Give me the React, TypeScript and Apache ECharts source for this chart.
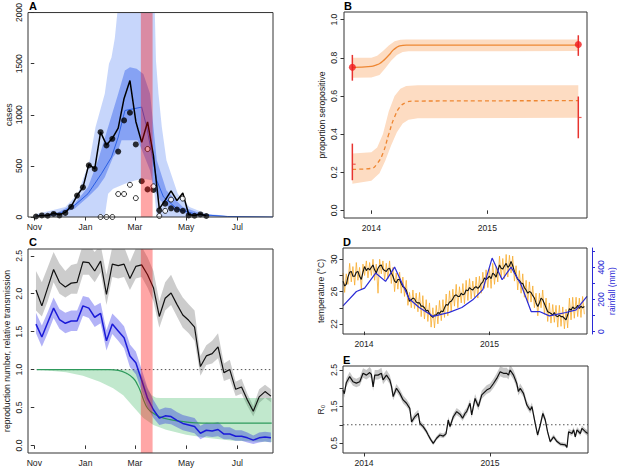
import { useEffect, useRef } from 'react';
import * as echarts from 'echarts';

// ---------------- Panel A: weekly cases (x = days since 1 Nov 2013) ----------------
const monthTicks = [0, 61, 120, 181, 242];
const monthLabels = ['Nov', 'Jan', 'Mar', 'May', 'Jul'];
const aWeeks = [2, 9, 16, 23, 30, 37, 44, 51, 58, 65, 72, 79, 86, 93, 100, 107, 114, 121, 128, 135, 142, 149, 156, 163, 170, 177, 184, 191, 198, 205];
const aTotal = [5, 15, 12, 40, 22, 45, 105, 210, 290, 515, 470, 830, 705, 770, 870, 1160, 1335, 935, 730, 930, 600, 80, 165, 255, 160, 235, 25, 15, 30, 10];
const aFilled = [5, 15, 12, 30, 15, 40, 100, 210, 290, 505, 470, 830, 700, 765, 640, 945, 1020, 710, 350, 270, 265, 65, 130, 85, 72, 60, 15, 12, 25, 10];
const aOpen = [null, null, null, null, null, null, null, null, null, null, null, 0, 0, 0, 225, 225, 315, 185, null, 665, 300, 10, 60, 170, null, 180, null, null, null, null];
const aLightHi = [[1, 26], [13, 49], [37, 98], [52, 228], [66, 555], [73, 880], [84, 1205], [89, 1500], [92, 1560], [96, 1750], [99, 2000], [104, 2500], [120, 2900], [138, 2700], [143.5, 2050], [145, 1530], [148, 1205], [152, 880], [157.5, 555], [171, 228], [185, 98], [205, 33], [237, 6], [284, 0]];
const aLightLo = [[1, 0], [84, 0], [86, 120], [88, 228], [94, 277], [108, 326], [120, 358], [130, 375], [140, 360], [143, 250], [146, 0], [284, 0]];
const aDarkHi = [[1, 5], [29, 49], [48, 130], [64, 293], [76, 555], [88, 880], [100, 1205], [108, 1433], [114, 1466], [122, 1450], [130, 1400], [138, 1205], [142, 880], [146, 554], [157.5, 260], [177, 98], [201, 26], [240, 3], [284, 0]];
const aDarkLo = [[1, 0], [29, 26], [48, 81], [64, 195], [76, 293], [84, 390], [94, 586], [100, 650], [104, 750], [123, 750], [128, 660], [138, 456], [142, 293], [150, 163], [165, 65], [189, 16], [240, 0], [284, 0]];
const aMedian = [[1, 5], [29, 26], [48, 114], [64, 228], [80, 423], [92, 586], [100, 782], [108, 1042], [118, 1058], [128, 1075], [134, 880], [140, 619], [146, 358], [154, 195], [170, 81], [193, 26], [230, 5], [284, 0]];
const redBand = [127, 141];

// ---------------- Panel B: seroprevalence ----------------
const bSolid = [[2013.836, 0.75], [2014.0, 0.755], [2014.04, 0.762], [2014.072, 0.77], [2014.1, 0.783], [2014.129, 0.8], [2014.16, 0.82], [2014.187, 0.84], [2014.215, 0.853], [2014.244, 0.862], [2014.302, 0.866], [2015.784, 0.866]];
const bSolidHi = [[2013.836, 0.8], [2014.0, 0.8], [2014.05, 0.81], [2014.1, 0.835], [2014.15, 0.865], [2014.2, 0.887], [2014.25, 0.894], [2014.3, 0.896], [2015.784, 0.896]];
const bSolidLo = [[2013.836, 0.695], [2014.0, 0.697], [2014.07, 0.71], [2014.12, 0.745], [2014.17, 0.785], [2014.22, 0.815], [2014.27, 0.83], [2014.32, 0.834], [2015.784, 0.835]];
const bDashed = [[2013.836, 0.215], [2014.0, 0.22], [2014.05, 0.245], [2014.1, 0.3], [2014.15, 0.4], [2014.2, 0.49], [2014.25, 0.545], [2014.3, 0.566], [2014.35, 0.573], [2015.784, 0.575]];
const bDashedHi = [[2013.836, 0.298], [2014.0, 0.305], [2014.05, 0.33], [2014.1, 0.4], [2014.15, 0.52], [2014.2, 0.6], [2014.25, 0.638], [2014.3, 0.652], [2014.4, 0.656], [2015.784, 0.656]];
const bDashedLo = [[2013.836, 0.14], [2014.0, 0.155], [2014.07, 0.195], [2014.12, 0.26], [2014.17, 0.34], [2014.22, 0.41], [2014.27, 0.455], [2014.32, 0.475], [2014.4, 0.483], [2015.784, 0.485]];
const errX = [2013.836, 2013.836, 2015.784, 2015.784];
const errLo = [0.68, 0.158, 0.81, 0.378];
const errHi = [0.815, 0.35, 0.918, 0.597];
const obsX = [2013.836, 2015.784];
const obsY = [0.75, 0.87];
const markY = [0.242, 0.487];
const yearTicks = [2014, 2015];

// ---------------- Panel C: reproduction number ----------------
const cWeeks = [2, 9, 16, 23, 30, 37, 44, 51, 58, 65, 72, 79, 86, 93, 100, 107, 114, 121, 128, 135, 142, 149, 156, 163, 170, 177, 184, 191, 198, 205, 212, 219, 226, 233, 240, 247, 254, 261, 268, 275, 282];
const cBlack = [2.05, 1.84, 2.08, 2.32, 2.15, 2.09, 2.14, 2.15, 2.42, 2.41, 2.30, 2.43, 1.99, 2.39, 2.37, 2.39, 2.20, 2.36, 2.38, 2.25, 2.08, 1.70, 1.94, 2.01, 1.86, 1.72, 1.65, 1.56, 1.04, 1.18, 1.21, 1.30, 0.96, 1.00, 0.74, 0.77, 0.60, 0.45, 0.64, 0.71, 0.65];
const cGrayHi = [2.30, 2.15, 2.35, 2.55, 2.40, 2.30, 2.38, 2.40, 2.65, 2.65, 2.55, 2.65, 2.25, 2.62, 2.60, 2.62, 2.42, 2.60, 2.62, 2.48, 2.30, 1.90, 2.15, 2.25, 2.08, 1.95, 1.86, 1.78, 1.18, 1.32, 1.38, 1.48, 1.08, 1.13, 0.84, 0.88, 0.68, 0.52, 0.74, 0.80, 0.74];
const cGrayLo = [1.78, 1.70, 1.90, 2.15, 2.00, 1.95, 2.00, 2.00, 2.25, 2.25, 2.15, 2.28, 1.85, 2.22, 2.20, 2.22, 2.05, 2.20, 2.22, 2.08, 1.90, 1.55, 1.78, 1.85, 1.70, 1.55, 1.48, 1.38, 0.92, 1.06, 1.08, 1.15, 0.85, 0.88, 0.65, 0.68, 0.52, 0.38, 0.56, 0.63, 0.57];
const cBlue = [1.60, 1.43, 1.62, 1.81, 1.66, 1.61, 1.64, 1.64, 1.84, 1.81, 1.69, 1.74, 1.38, 1.60, 1.51, 1.42, 1.18, 1.09, 0.86, 0.62, 0.47, 0.36, 0.39, 0.38, 0.33, 0.29, 0.27, 0.25, 0.16, 0.20, 0.19, 0.21, 0.15, 0.15, 0.12, 0.12, 0.10, 0.07, 0.10, 0.11, 0.10];
const cBlueHi = [1.75, 1.58, 1.76, 1.95, 1.80, 1.75, 1.78, 1.78, 1.97, 1.95, 1.84, 1.88, 1.52, 1.74, 1.66, 1.57, 1.33, 1.24, 1.00, 0.76, 0.60, 0.47, 0.50, 0.49, 0.44, 0.40, 0.38, 0.36, 0.26, 0.30, 0.29, 0.31, 0.24, 0.24, 0.20, 0.20, 0.17, 0.13, 0.17, 0.18, 0.17];
const cBlueLo = [1.48, 1.30, 1.48, 1.68, 1.54, 1.48, 1.51, 1.51, 1.71, 1.68, 1.56, 1.61, 1.25, 1.47, 1.38, 1.28, 1.03, 0.94, 0.72, 0.50, 0.36, 0.27, 0.29, 0.28, 0.24, 0.20, 0.18, 0.16, 0.08, 0.12, 0.11, 0.12, 0.08, 0.08, 0.06, 0.06, 0.04, 0.02, 0.04, 0.05, 0.04];
const cGreen = [[3, 1.0], [90, 1.0], [100, 0.99], [110, 0.95], [118, 0.886], [123, 0.8], [127, 0.7], [131, 0.58], [135, 0.49], [141, 0.43], [149, 0.38], [162, 0.34], [180, 0.31], [200, 0.295], [283, 0.293]];
const cGreenHi = [[3, 1.0], [118, 1.0], [124, 0.98], [128, 0.92], [132, 0.82], [136, 0.72], [140, 0.66], [145, 0.63], [150, 0.625], [283, 0.625]];
const cGreenLo = [[3, 1.0], [38, 0.965], [58, 0.92], [78, 0.84], [94, 0.754], [106, 0.66], [118, 0.51], [130, 0.36], [142, 0.27], [157, 0.206], [181, 0.14], [205, 0.1], [237, 0.06], [283, 0.045]];
const cRef = [[3, 1], [283, 1]];

// ---------------- Panel D: temperature and rainfall ----------------
const tempYears = [
  2013.833, 2013.846, 2013.859, 2013.872, 2013.886, 2013.899, 2013.912, 2013.926, 2013.939, 2013.952,
  2013.965, 2013.979, 2013.992, 2014.005, 2014.019, 2014.032, 2014.045, 2014.059, 2014.072, 2014.085,
  2014.098, 2014.112, 2014.125, 2014.138, 2014.151, 2014.165, 2014.178, 2014.191, 2014.204, 2014.218,
  2014.231, 2014.244, 2014.257, 2014.270, 2014.284, 2014.297, 2014.310, 2014.323, 2014.337, 2014.350,
  2014.363, 2014.377, 2014.390, 2014.403, 2014.416, 2014.430, 2014.443, 2014.456, 2014.469, 2014.482,
  2014.496, 2014.509, 2014.522, 2014.535, 2014.549, 2014.562, 2014.576, 2014.589, 2014.602, 2014.616,
  2014.629, 2014.642, 2014.655, 2014.668, 2014.682, 2014.695, 2014.708, 2014.721, 2014.735, 2014.748,
  2014.761, 2014.775, 2014.788, 2014.801, 2014.814, 2014.828, 2014.841, 2014.854, 2014.867, 2014.881,
  2014.894, 2014.907, 2014.920, 2014.934, 2014.947, 2014.960, 2014.973, 2014.987, 2015.000, 2015.013,
  2015.026, 2015.040, 2015.053, 2015.066, 2015.080, 2015.093, 2015.106, 2015.120, 2015.133, 2015.146,
  2015.159, 2015.172, 2015.185, 2015.199, 2015.212, 2015.225, 2015.238, 2015.252, 2015.265, 2015.278,
  2015.292, 2015.305, 2015.318, 2015.331, 2015.345, 2015.358, 2015.371, 2015.385, 2015.398, 2015.411,
  2015.424, 2015.438, 2015.451, 2015.464, 2015.477, 2015.490, 2015.504, 2015.517, 2015.530, 2015.544,
  2015.557, 2015.570, 2015.584, 2015.597, 2015.610, 2015.623, 2015.637, 2015.650, 2015.663, 2015.676,
  2015.690, 2015.703, 2015.716, 2015.729, 2015.742, 2015.756,
];
const tempSmooth = [
  27.3, 26.7, 26.9, 27.8, 28.4, 28.5, 27.9, 27.9, 28.4, 28.5,
  27.9, 27.5, 28.4, 29.1, 28.6, 28.9, 28.7, 29.0, 29.3, 28.7,
  28.3, 28.9, 29.2, 29.3, 28.8, 28.6, 28.5, 28.8, 28.9, 28.3,
  27.9, 27.3, 27.1, 27.5, 27.5, 27.0, 26.6, 26.5, 26.2, 25.5,
  24.8, 25.0, 25.2, 25.1, 24.7, 24.6, 24.6, 24.2, 24.2, 24.0,
  23.6, 23.7, 23.3, 23.0, 22.8, 23.1, 23.1, 23.4, 23.3, 23.6,
  23.5, 24.0, 24.4, 24.3, 24.7, 24.8, 25.1, 25.5, 25.6, 25.4,
  25.4, 25.8, 25.6, 25.7, 26.2, 26.1, 26.5, 26.3, 26.2, 26.5,
  26.6, 26.4, 26.6, 27.0, 27.2, 27.7, 27.5, 27.7, 27.9, 27.6,
  28.3, 28.1, 27.8, 28.5, 29.3, 28.9, 28.8, 29.2, 29.5, 29.0,
  29.2, 29.75, 29.2, 28.5, 28.0, 27.5, 27.4, 27.05, 27.0, 26.5,
  26.2, 25.8, 26.0, 25.9, 25.5, 25.2, 24.6, 24.15, 24.6, 25.2,
  25.0, 24.5, 24.0, 23.5, 23.4, 23.3, 23.1, 23.4, 23.0, 22.9,
  23.1, 22.9, 22.9, 22.7, 22.5, 23.1, 23.9, 23.7, 24.1, 23.9,
  24.0, 24.3, 23.9, 24.2, 24.0, 24.15,
];
const tempDaily = [
  28.3, 25.9, 28.2, 26.9, 29.5, 27.2, 29.1, 26.8, 29.6, 27.4,
  29.0, 26.3, 29.4, 28.0, 29.8, 27.7, 29.6, 28.0, 30.0, 27.4,
  29.4, 25.8, 30.0, 28.2, 29.8, 27.5, 29.5, 27.6, 29.8, 27.0,
  29.0, 26.0, 28.3, 26.3, 28.4, 25.8, 27.8, 25.4, 27.4, 24.3,
  25.9, 24.0, 26.2, 23.9, 25.8, 23.5, 25.9, 22.9, 25.5, 22.6,
  25.0, 22.3, 24.6, 21.6, 24.0, 21.5, 24.3, 22.0, 24.9, 22.4,
  25.0, 22.8, 25.7, 23.0, 26.1, 23.5, 26.3, 24.2, 26.9, 24.0,
  26.6, 24.6, 27.0, 24.5, 27.4, 24.9, 27.6, 25.1, 27.3, 25.3,
  27.8, 25.2, 27.9, 25.8, 28.4, 26.4, 28.7, 26.5, 28.9, 26.4,
  29.5, 26.9, 29.1, 27.2, 30.4, 27.7, 30.1, 27.6, 30.6, 27.8,
  30.5, 28.3, 30.4, 27.3, 29.2, 26.2, 28.6, 25.8, 28.2, 25.3,
  27.4, 24.6, 27.2, 24.7, 26.7, 24.0, 25.8, 23.0, 25.8, 24.0,
  26.2, 23.2, 25.2, 22.3, 24.6, 22.1, 24.4, 22.2, 24.3, 21.6,
  24.3, 21.7, 24.1, 21.4, 23.8, 21.5, 25.2, 22.5, 25.3, 22.7,
  25.3, 22.9, 25.2, 22.8, 25.4, 23.2,
];
const rainYears = [2013.833, 2013.94, 2014.005, 2014.093, 2014.172, 2014.244, 2014.36, 2014.44, 2014.55, 2014.68, 2014.78, 2014.867, 2014.947, 2015.021, 2015.101, 2015.172, 2015.252, 2015.332, 2015.398, 2015.477, 2015.61, 2015.69, 2015.777];
const rainMm = [160, 250, 271, 365, 313, 402, 205, 150, 95, 120, 150, 198, 262, 458, 323, 402, 292, 125, 125, 98, 119, 135, 219];

// ---------------- Panel E: R0 ----------------
const r0Years = [
  2013.833, 2013.843, 2013.859, 2013.886, 2013.912, 2013.939, 2013.966, 2013.992, 2014.019, 2014.045,
  2014.058, 2014.072, 2014.085, 2014.111, 2014.138, 2014.151, 2014.178, 2014.204, 2014.218, 2014.231,
  2014.257, 2014.284, 2014.310, 2014.337, 2014.363, 2014.377, 2014.403, 2014.430, 2014.443, 2014.469,
  2014.496, 2014.509, 2014.528, 2014.549, 2014.576, 2014.602, 2014.629, 2014.650, 2014.660, 2014.668,
  2014.682, 2014.708, 2014.735, 2014.761, 2014.782, 2014.801, 2014.814, 2014.841, 2014.854, 2014.881,
  2014.907, 2014.934, 2014.973, 2015.000, 2015.027, 2015.053, 2015.080, 2015.106, 2015.133, 2015.146,
  2015.159, 2015.186, 2015.212, 2015.225, 2015.239, 2015.265, 2015.292, 2015.318, 2015.332, 2015.358,
  2015.377, 2015.398, 2015.419, 2015.438, 2015.456, 2015.477, 2015.504, 2015.531, 2015.557, 2015.597,
  2015.610, 2015.623, 2015.650, 2015.663, 2015.676, 2015.690, 2015.716, 2015.729, 2015.756, 2015.775,
];
const r0Mid = [
  1.95, 1.85, 2.15, 2.32, 2.18, 2.14, 2.18, 2.41, 2.36, 2.43,
  2.38, 2.04, 2.36, 2.36, 2.41, 2.23, 2.36, 2.23, 2.05, 1.77,
  2.00, 1.86, 1.68, 1.59, 1.45, 1.08, 1.22, 1.31, 1.04, 0.95,
  0.81, 0.72, 0.60, 0.49, 0.63, 0.72, 0.69, 0.75, 0.95, 1.13,
  0.95, 1.22, 1.36, 1.29, 1.18, 1.31, 1.36, 1.59, 1.27, 1.72,
  1.50, 1.82, 1.95, 2.00, 2.13, 2.27, 2.45, 2.41, 2.41, 2.36,
  2.50, 2.36, 2.13, 1.91, 2.00, 1.86, 1.54, 1.40, 1.50, 1.04,
  0.72, 0.99, 1.31, 1.13, 0.81, 0.54, 0.67, 0.54, 0.47, 0.45,
  0.38, 0.81, 0.76, 0.86, 0.67, 0.86, 0.76, 0.90, 0.81, 0.76,
];
const r0Hi = [
  2.06, 1.96, 2.27, 2.45, 2.30, 2.26, 2.31, 2.55, 2.50, 2.58,
  2.52, 2.17, 2.50, 2.50, 2.56, 2.37, 2.50, 2.36, 2.18, 1.89,
  2.12, 1.98, 1.80, 1.70, 1.56, 1.17, 1.32, 1.41, 1.13, 1.03,
  0.88, 0.79, 0.66, 0.55, 0.69, 0.79, 0.76, 0.82, 1.03, 1.22,
  1.03, 1.31, 1.46, 1.39, 1.28, 1.41, 1.46, 1.70, 1.37, 1.84,
  1.61, 1.94, 2.08, 2.13, 2.26, 2.41, 2.60, 2.56, 2.56, 2.50,
  2.65, 2.50, 2.26, 2.03, 2.13, 1.98, 1.65, 1.50, 1.61, 1.13,
  0.79, 1.07, 1.41, 1.22, 0.88, 0.60, 0.74, 0.60, 0.53, 0.51,
  0.44, 0.89, 0.84, 0.94, 0.75, 0.94, 0.84, 0.98, 0.89, 0.84,
];
const r0Lo = [
  1.84, 1.74, 2.04, 2.20, 2.07, 2.03, 2.07, 2.29, 2.24, 2.31,
  2.26, 1.93, 2.24, 2.24, 2.29, 2.11, 2.24, 2.12, 1.94, 1.67,
  1.89, 1.76, 1.58, 1.49, 1.36, 1.00, 1.14, 1.22, 0.97, 0.88,
  0.75, 0.66, 0.55, 0.44, 0.58, 0.66, 0.63, 0.69, 0.88, 1.05,
  0.88, 1.13, 1.27, 1.20, 1.10, 1.22, 1.27, 1.49, 1.18, 1.62,
  1.40, 1.71, 1.84, 1.89, 2.01, 2.15, 2.33, 2.29, 2.29, 2.24,
  2.38, 2.24, 2.01, 1.80, 1.89, 1.76, 1.45, 1.31, 1.40, 0.97,
  0.66, 0.92, 1.22, 1.05, 0.75, 0.49, 0.61, 0.49, 0.42, 0.40,
  0.34, 0.74, 0.69, 0.79, 0.61, 0.79, 0.69, 0.83, 0.74, 0.69,
];
const eRef = [[2013.833, 1], [2015.777, 1]];

// ---------------- helpers ----------------
const FONT = 'Liberation Sans, Arial, Helvetica, sans-serif';
const AX = '#333';
const TXT = '#222';
const FS = 8.6;
const BLUE_AX = '#2b2bd6';

const zip = (xs: number[], ys: (number | null)[]) => xs.map((x, i) => [x, ys[i]]);

const band = (xi: number, yi: number, upper: any[], lower: any[], color: string, z = 1) => ({
  type: 'custom', xAxisIndex: xi, yAxisIndex: yi, z, silent: true, clip: true,
  data: [upper[0]],
  renderItem: (_p: any, api: any) => ({
    type: 'polygon',
    shape: { points: upper.map((p: number[]) => api.coord(p)).concat(lower.slice().reverse().map((p: number[]) => api.coord(p))) },
    style: { fill: color },
  }),
});

const line = (xi: number, yi: number, data: any[], color: string, width: number, z = 3, type: any = 'solid', smooth = false) => ({
  type: 'line', xAxisIndex: xi, yAxisIndex: yi, data, z, silent: true, smooth,
  showSymbol: false, symbol: 'none',
  lineStyle: { color, width, type },
});

const redRect = (xi: number, yi: number, yMin: number, yMax: number) => ({
  type: 'custom', xAxisIndex: xi, yAxisIndex: yi, z: 9, silent: true, clip: true,
  data: [[redBand[0], yMin]],
  renderItem: (_p: any, api: any) => {
    const a = api.coord([redBand[0], yMax]);
    const b = api.coord([redBand[1], yMin]);
    return { type: 'rect', shape: { x: a[0], y: a[1], width: b[0] - a[0], height: b[1] - a[1] }, style: { fill: 'rgba(255,0,0,0.35)' } };
  },
});

const xAx = (gridIndex: number, min: number, max: number, ticks: number[], fmt: (v: number) => string) => ({
  type: 'value', gridIndex, min, max,
  axisLine: { show: false }, splitLine: { show: false },
  axisTick: { show: true, length: 3.5, customValues: ticks, lineStyle: { color: AX } },
  axisLabel: { customValues: ticks, formatter: fmt, fontSize: FS, color: TXT, fontFamily: FONT, margin: 5, hideOverlap: false },
});

const yAx = (gridIndex: number, min: number, max: number, ticks: number[], labels: number[], fmt: (v: number) => string,
  name: string, nameGap: number, margin: number) => ({
  type: 'value', gridIndex, min, max,
  axisLine: { show: false }, splitLine: { show: false },
  axisTick: { show: true, length: 3.5, customValues: ticks, lineStyle: { color: AX } },
  axisLabel: { customValues: labels, formatter: fmt, rotate: 90, fontSize: FS, color: TXT, fontFamily: FONT, margin, hideOverlap: false },
  name, nameLocation: 'middle', nameRotate: 90, nameGap,
  nameTextStyle: { fontSize: FS, fontFamily: FONT, color: TXT },
});

const gridBox = (left: number, top: number, width: number, height: number) => ({
  left, top, width, height, show: true, borderColor: AX, borderWidth: 1, backgroundColor: 'transparent', z: 10,
});

const monthFmt = (v: number) => monthLabels[monthTicks.indexOf(v)] ?? '';
const yearFmt = (v: number) => String(v);
const f1 = (v: number) => v.toFixed(1);
const f0 = (v: number) => String(v);

const letter = (text: string, x: number, y: number) => ({
  type: 'text', x, y, silent: true,
  style: { text, font: `bold 11px ${FONT}`, fill: '#000', verticalAlign: 'middle', align: 'left' },
});

export default function App() {
  const ref = useRef<HTMLDivElement>(null);
  useEffect(() => {
    if (!ref.current) return;
    const chart = echarts.init(ref.current, null, { renderer: 'svg' });
    const option: any = {
      animation: false,
      textStyle: { fontFamily: FONT },
      graphic: [letter('A', 29, 6), letter('B', 344, 6), letter('C', 29, 242), letter('D', 343, 242), letter('E', 343, 360)],
      grid: [
        gridBox(28, 12, 245, 205),
        gridBox(344, 12, 243, 206),
        gridBox(28, 249, 245, 204),
        gridBox(343, 248, 245, 86),
        gridBox(343, 366, 245, 87),
      ],
      xAxis: [
        xAx(0, -7.5, 284.5, monthTicks, monthFmt),
        xAx(1, 2013.764, 2015.859, yearTicks, yearFmt),
        xAx(2, -7.5, 284.5, monthTicks, monthFmt),
        xAx(3, 2013.833, 2015.777, yearTicks, yearFmt),
        xAx(4, 2013.833, 2015.777, yearTicks, yearFmt),
      ],
      yAxis: [
        yAx(0, 0, 2000, [0, 500, 1000, 1500, 2000], [0, 500, 1000, 1500, 2000], f0, 'cases', 15, 5),
        yAx(1, -0.04, 1.04, [0, 0.2, 0.4, 0.6, 0.8, 1.0], [0, 0.2, 0.4, 0.6, 0.8, 1.0], f1, 'proportion seropositive', 18, 6),
        yAx(2, -0.1, 2.59, [0, 0.5, 1, 1.5, 2, 2.5], [0, 0.5, 1, 1.5, 2, 2.5], f1, 'reproduction number, relative transmission', 17, 4.5),
        yAx(3, 20.75, 31.4, [22, 24, 26, 28, 30], [22, 26, 30], f0, 'temperature (°C)', 18, 5),
        {
          type: 'value', gridIndex: 3, min: -15, max: 521, position: 'right', offset: 5,
          axisLine: { show: true, lineStyle: { color: BLUE_AX, width: 1 } }, splitLine: { show: false },
          axisTick: { show: true, length: 3, customValues: [0, 100, 200, 300, 400, 500], lineStyle: { color: BLUE_AX } },
          axisLabel: { customValues: [0, 200, 400], formatter: f0, rotate: 90, fontSize: FS, color: BLUE_AX, fontFamily: FONT, margin: 4, hideOverlap: false },
          name: 'rainfall (mm)', nameLocation: 'middle', nameRotate: 90, nameGap: 15,
          nameTextStyle: { fontSize: FS, fontFamily: FONT, color: BLUE_AX },
        },
        yAx(4, 0.226, 2.61, [0.5, 1, 1.5, 2, 2.5], [0.5, 1.5, 2.5], f1, 'R₀', 18, 5),
      ],
      series: [
        // ---- A ----
        band(0, 0, aLightHi, aLightLo, 'rgba(30,90,240,0.25)', 1),
        band(0, 0, aDarkHi, aDarkLo, 'rgba(30,80,235,0.38)', 2),
        line(0, 0, aMedian, '#2b5fe3', 1, 3),
        line(0, 0, zip(aWeeks, aTotal), '#000', 1.5, 4),
        {
          type: 'scatter', xAxisIndex: 0, yAxisIndex: 0, z: 5, silent: true, symbolSize: 6,
          itemStyle: { color: '#000' }, data: zip(aWeeks, aFilled),
        },
        {
          type: 'scatter', xAxisIndex: 0, yAxisIndex: 0, z: 5, silent: true, symbolSize: 5,
          itemStyle: { color: '#fff', borderColor: '#000', borderWidth: 1 },
          data: zip(aWeeks, aOpen).filter((p) => p[1] !== null),
        },
        redRect(0, 0, 0, 2000),
        // ---- B ----
        band(1, 1, bSolidHi, bSolidLo, '#fddcc2', 1),
        band(1, 1, bDashedHi, bDashedLo, '#fddcc2', 1),
        line(1, 1, bSolid, '#ee8733', 1.3, 3, 'solid', true),
        line(1, 1, bDashed, '#ee8733', 1.3, 3, [4, 3], true),
        {
          type: 'custom', xAxisIndex: 1, yAxisIndex: 1, z: 5, silent: true,
          data: errX.map((x, i) => [x, errLo[i], errHi[i]]),
          encode: { x: 0, y: [1, 2] },
          renderItem: (_p: any, api: any) => {
            const a = api.coord([api.value(0), api.value(1)]);
            const b = api.coord([api.value(0), api.value(2)]);
            return { type: 'line', shape: { x1: a[0], y1: a[1], x2: b[0], y2: b[1] }, style: { stroke: '#e8342f', lineWidth: 1.5 } };
          },
        },
        {
          type: 'scatter', xAxisIndex: 1, yAxisIndex: 1, z: 6, silent: true, symbolSize: 7,
          itemStyle: { color: '#f01c1c' }, data: zip(obsX, obsY),
        },
        {
          type: 'scatter', xAxisIndex: 1, yAxisIndex: 1, z: 6, silent: true, symbol: 'rect', symbolSize: [2.5, 1.2], symbolOffset: [2, 0],
          itemStyle: { color: '#e8342f' }, data: zip(obsX, markY),
        },
        // ---- C ----
        band(2, 2, zip(cWeeks, cGrayHi), zip(cWeeks, cGrayLo), 'rgba(0,0,0,0.2)', 1),
        band(2, 2, cGreenHi, cGreenLo, 'rgba(50,180,90,0.3)', 1),
        band(2, 2, zip(cWeeks, cBlueHi), zip(cWeeks, cBlueLo), 'rgba(0,0,230,0.3)', 2),
        line(2, 2, cRef, '#555', 1, 3, [1.5, 2.5]),
        line(2, 2, cGreen, '#2e9a5c', 1.2, 3, 'solid', true),
        line(2, 2, zip(cWeeks, cBlack), '#111', 1.2, 4),
        line(2, 2, zip(cWeeks, cBlue), '#1a1ad8', 1.5, 4),
        redRect(2, 2, -0.1, 2.59),
        // ---- D ----
        line(3, 3, zip(tempYears, tempDaily), '#f8ac2e', 0.8, 2),
        line(3, 3, zip(tempYears, tempSmooth), '#111', 1.1, 3),
        line(3, 4, zip(rainYears, rainMm), '#2b2bd6', 1.2, 4),
        // ---- E ----
        band(4, 5, zip(r0Years, r0Hi), zip(r0Years, r0Lo), '#c8c8c8', 1),
        line(4, 5, eRef, '#555', 1, 2, [1.5, 2.5]),
        line(4, 5, zip(r0Years, r0Mid), '#111', 1.2, 3),
      ],
    };
    chart.setOption(option);
    return () => chart.dispose();
  }, []);
  return <div ref={ref} style={{ position: 'fixed', left: 0, top: 0, width: 617, height: 469, background: '#fff' }} />;
}
